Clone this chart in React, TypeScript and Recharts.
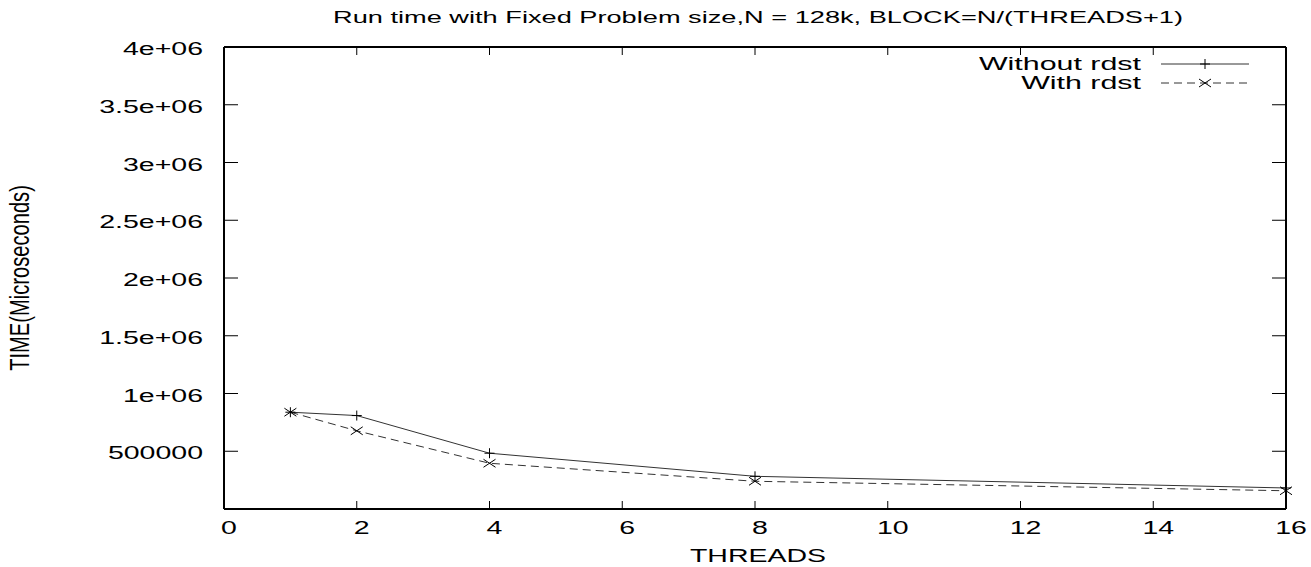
import React from "react"
import { LineChart, Line, XAxis, YAxis } from "recharts"

const threads = [1, 2, 4, 8, 16]
const withoutRdst = [838000, 809000, 483000, 283000, 182000]
const withRdst = [838000, 677000, 396000, 240000, 158000]
const xTicks = [0, 2, 4, 6, 8, 10, 12, 14, 16]
const yTicks = [500000, 1000000, 1500000, 2000000, 2500000, 3000000, 3500000, 4000000]

const data = threads.map((t, i) => ({
  threads: t,
  without: withoutRdst[i],
  with: withRdst[i]
}))

const FONT = "'Liberation Sans', Arial, Helvetica, sans-serif"
const SX = 1.5

function fmtY(v: number) {
  if (v >= 1000000) return `${v / 1000000}e+06`
  return String(v)
}

function XTick(props: any) {
  const { x, y, payload } = props
  return (
    <text
      transform={`translate(${x + 5},${y + 25}) scale(${SX},1)`}
      textAnchor="middle"
      fontSize={19}
      fontFamily={FONT}
      fill="#000"
    >
      {payload.value}
    </text>
  )
}

function YTick(props: any) {
  const { x, y, payload } = props
  return (
    <text
      transform={`translate(${x},${y + 8}) scale(${SX},1)`}
      textAnchor="end"
      fontSize={19}
      fontFamily={FONT}
      fill="#000"
    >
      {fmtY(payload.value)}
    </text>
  )
}

function PlusDot(props: any) {
  const { cx, cy, index } = props
  return (
    <g key={"p" + index}>
      <line x1={cx - 5} y1={cy} x2={cx + 5} y2={cy} stroke="#000" strokeWidth={1} />
      <line x1={cx} y1={cy - 5} x2={cx} y2={cy + 5} stroke="#000" strokeWidth={1} />
    </g>
  )
}

function CrossDot(props: any) {
  const { cx, cy, index } = props
  return (
    <g key={"x" + index}>
      <line x1={cx - 6} y1={cy - 4} x2={cx + 6} y2={cy + 4} stroke="#000" strokeWidth={1} />
      <line x1={cx - 6} y1={cy + 4} x2={cx + 6} y2={cy - 4} stroke="#000" strokeWidth={1} />
    </g>
  )
}

export default function App() {
  return (
    <div style={{ position: "absolute", left: 0, top: 0, width: 1311, height: 567, background: "#fff" }}>
      <LineChart
        width={1311}
        height={567}
        data={data}
        margin={{ top: 46, right: 24, bottom: 0, left: 0 }}
      >
        <XAxis
          dataKey="threads"
          type="number"
          domain={[0, 16]}
          ticks={xTicks}
          height={58}
          stroke="#000"
          axisLine={{ strokeWidth: 2 }}
          tickSize={-8}
          tickMargin={8}
          tick={<XTick />}
        />
        <XAxis
          xAxisId="top"
          dataKey="threads"
          orientation="top"
          type="number"
          domain={[0, 16]}
          ticks={xTicks}
          height={1}
          stroke="#000"
          axisLine={{ strokeWidth: 2 }}
          tickSize={-8}
          tickFormatter={() => ""}
        />
        <YAxis
          type="number"
          domain={[0, 4000000]}
          ticks={yTicks}
          width={224}
          stroke="#000"
          axisLine={{ strokeWidth: 2 }}
          tickSize={-14}
          tickMargin={35}
          tick={<YTick />}
        />
        <YAxis
          yAxisId="right"
          orientation="right"
          type="number"
          domain={[0, 4000000]}
          ticks={yTicks}
          width={1}
          stroke="#000"
          axisLine={{ strokeWidth: 2 }}
          tickSize={-14}
          tickFormatter={() => ""}
        />
        <Line
          dataKey="without"
          stroke="#333"
          strokeWidth={1}
          dot={PlusDot}
          activeDot={false}
          isAnimationActive={false}
        />
        <Line
          dataKey="with"
          stroke="#333"
          strokeWidth={1}
          strokeDasharray="8 5"
          dot={CrossDot}
          activeDot={false}
          isAnimationActive={false}
        />
        {/* invisible series so the mirrored top/right border axes get drawn */}
        <Line
          xAxisId="top"
          yAxisId="right"
          dataKey="with"
          stroke="none"
          dot={false}
          activeDot={false}
          legendType="none"
          isAnimationActive={false}
        />
      </LineChart>
      <svg width={1311} height={567} style={{ position: "absolute", left: 0, top: 0, pointerEvents: "none" }}>
        <text
          transform="translate(758,23) scale(1.6,1)"
          textAnchor="middle"
          fontSize={17}
          fontFamily={FONT}
          fill="#000"
        >
          Run time with Fixed Problem size,N = 128k, BLOCK=N/(THREADS+1)
        </text>
        <text
          transform="translate(1141,70) scale(1.6,1)"
          textAnchor="end"
          fontSize={19}
          fontFamily={FONT}
          fill="#000"
        >
          Without rdst
        </text>
        <line x1={1161} y1={64} x2={1249} y2={64} stroke="#333" strokeWidth={1} />
        <PlusDot cx={1205} cy={64} index={0} />
        <text
          transform="translate(1141,89) scale(1.6,1)"
          textAnchor="end"
          fontSize={19}
          fontFamily={FONT}
          fill="#000"
        >
          With rdst
        </text>
        <line x1={1161} y1={83} x2={1249} y2={83} stroke="#333" strokeWidth={1} strokeDasharray="8 5" />
        <CrossDot cx={1205} cy={83} index={0} />
        <text
          transform={`translate(758,562) scale(${SX},1)`}
          textAnchor="middle"
          fontSize={19}
          fontFamily={FONT}
          fill="#000"
        >
          THREADS
        </text>
        <text
          transform="translate(29,278) rotate(-90) scale(1.06,1.45)"
          textAnchor="middle"
          fontSize={19}
          fontFamily={FONT}
          fill="#000"
        >
          TIME(Microseconds)
        </text>
      </svg>
    </div>
  )
}
